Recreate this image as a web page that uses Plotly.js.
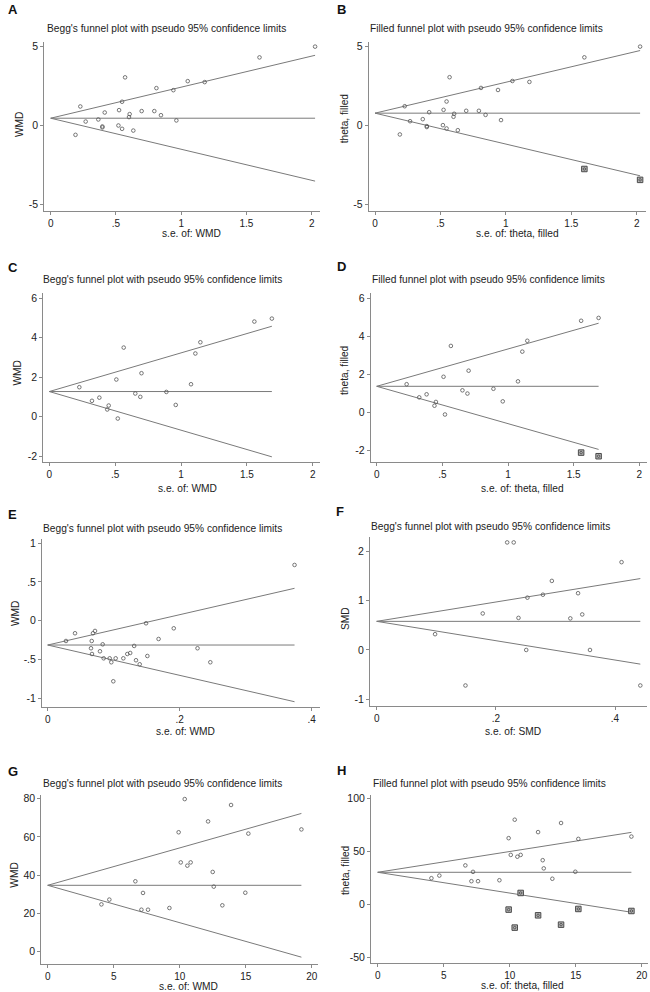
<!DOCTYPE html>
<html><head><meta charset="utf-8">
<script src="https://cdn.plot.ly/plotly-3.0.1.min.js"></script>
<style>html,body{margin:0;padding:0;background:#fff}</style>
</head><body><div id="chart" style="width:650px;height:992px"></div>
<script>
// ---------- DATA ----------
// Panels A & B (same observed studies)
const seA  = [2.026, 1.60, 0.57, 1.05, 1.18, 0.81, 0.94, 0.547, 0.227, 0.524, 0.697, 0.794, 0.414, 0.605, 0.845, 0.60, 0.365, 0.963, 0.268, 0.519, 0.396, 0.396, 0.547, 0.633, 0.19];
const wmdA = [4.98, 4.30, 3.04, 2.80, 2.74, 2.36, 2.23, 1.50, 1.20, 0.97, 0.91, 0.91, 0.82, 0.72, 0.65, 0.53, 0.38, 0.32, 0.25, 0.00, -0.06, -0.12, -0.21, -0.32, -0.59];
const seBfill    = [1.60, 2.026];
const thetaBfill = [-2.78, -3.47];
// Panels C & D
const seC  = [1.69, 1.557, 1.147, 0.565, 1.109, 0.70, 0.509, 1.076, 0.228, 0.889, 0.653, 0.691, 0.38, 0.324, 0.96, 0.451, 0.44, 0.52];
const wmdC = [4.97, 4.82, 3.77, 3.50, 3.20, 2.20, 1.88, 1.64, 1.49, 1.25, 1.17, 1.00, 0.96, 0.80, 0.59, 0.56, 0.36, -0.10];
const seDfill    = [1.557, 1.69];
const thetaDfill = [-2.10, -2.29];
// Panel E
const seE  = [0.374, 0.149, 0.191, 0.0414, 0.0277, 0.0717, 0.0686, 0.168, 0.0667, 0.0833, 0.131, 0.0656, 0.227, 0.0792, 0.0671, 0.1206, 0.125, 0.151, 0.0848, 0.0939, 0.103, 0.1146, 0.0964, 0.1338, 0.1394, 0.2464, 0.0994];
const wmdE = [0.72, -0.034, -0.099, -0.163, -0.263, -0.133, -0.163, -0.237, -0.263, -0.306, -0.327, -0.357, -0.357, -0.396, -0.431, -0.431, -0.418, -0.457, -0.487, -0.487, -0.487, -0.487, -0.538, -0.512, -0.564, -0.538, -0.784];
// Panel F
const seF  = [0.219, 0.230, 0.411, 0.294, 0.338, 0.279, 0.253, 0.178, 0.345, 0.238, 0.325, 0.098, 0.251, 0.358, 0.149, 0.4425];
const smdF = [2.18, 2.18, 1.78, 1.40, 1.15, 1.12, 1.06, 0.74, 0.72, 0.65, 0.64, 0.32, 0.0, 0.0, -0.72, -0.72];
// Panels G & H
const seG  = [10.38, 13.89, 12.15, 9.92, 19.22, 15.2, 10.08, 10.83, 10.58, 12.5, 6.64, 12.58, 7.22, 14.97, 4.67, 4.07, 13.23, 9.22, 7.10, 7.60];
const wmdG = [79.8, 76.7, 68.1, 62.4, 63.9, 61.7, 46.6, 46.6, 44.9, 41.6, 36.7, 33.9, 30.6, 30.7, 27.1, 24.6, 24.1, 22.7, 21.8, 21.8];
const seHfill    = [10.83, 9.92, 15.2, 19.22, 12.15, 13.89, 10.38];
const thetaHfill = [10.7, -5.0, -4.4, -6.3, -10.4, -19.2, -22.0];
// pooled estimates (A..H)
const pooled = [0.46, 0.76, 1.27, 1.38, -0.315, 0.58, 34.6, 30.2];
// tick labels
const xTicks2  = [0, 0.5, 1, 1.5, 2];   const xTickText2  = ['0', '.5', '1', '1.5', '2'];
const xTicks04 = [0, 0.2, 0.4];         const xTickText04 = ['0', '.2', '.4'];
const xTicks20 = [0, 5, 10, 15, 20];    const xTickText20 = ['0', '5', '10', '15', '20'];
const yTicksA = [-5, 0, 5];
const yTicksC = [-2, 0, 2, 4, 6];
const yTicksE = [-1, -0.5, 0, 0.5, 1];  const yTickTextE = ['-1', '-.5', '0', '.5', '1'];
const yTicksF = [-1, 0, 1, 2];
const yTicksG = [0, 20, 40, 60, 80];
const yTicksH = [-50, 0, 50, 100];
const letters = ['A','B','C','D','E','F','G','H'];
const titleBegg = "Begg's funnel plot with pseudo 95% confidence limits";
const titleFill = "Filled funnel plot with pseudo 95% confidence limits";
const xTitles = ['s.e. of: WMD','s.e. of: theta, filled','s.e. of: WMD','s.e. of: theta, filled','s.e. of: WMD','s.e. of: SMD','s.e. of: WMD','s.e. of: theta, filled'];
const yTitles = ['WMD','theta, filled','WMD','theta, filled','WMD','SMD','WMD','theta, filled'];

// ---------- LAYOUT GEOMETRY (pixels) ----------
const W = 650, H = 992;
const FONT = 'Liberation Sans, Arial, sans-serif';
const panels = [
 {se: seA, y: wmdA, title: titleBegg, xl:44.3, xr:320, yt:41.7, yb:210.7, xm:[0,50.7,2,311.7], ym:[5,46.3,-5,204.7], xt:xTicks2, xtt:xTickText2, yt_:yTicksA,
  let:[13,9.5], ttl:[166,28.3], xtl:[191,233.5], ytl:[20,125]},
 {se: seA, y: wmdA, fse: seBfill, fy: thetaBfill, title: titleFill, xl:368.7, xr:645.7, yt:41.7, yb:210.7, xm:[0,375,2,636.7], ym:[5,46.3,-5,204], xt:xTicks2, xtt:xTickText2, yt_:yTicksA,
  let:[341,9.5], ttl:[486.7,28.3], xtl:[517.5,233.5], ytl:[344,118.3]},
 {se: seC, y: wmdC, title: titleBegg, xl:43.3, xr:320, yt:293.3, yb:462, xm:[0,49.3,2,312.7], ym:[6,298.3,-2,456], xt:xTicks2, xtt:xTickText2, yt_:yTicksC,
  let:[12.5,267.7], ttl:[162.8,279.3], xtl:[187.3,488.5], ytl:[17.3,373.3]},
 {se: seC, y: wmdC, fse: seDfill, fy: thetaDfill, title: titleFill, xl:370.7, xr:646.7, yt:293.3, yb:461.7, xm:[0,376.7,2,639.3], ym:[6,298.3,-2,450.7], xt:xTicks2, xtt:xTickText2, yt_:yTicksC,
  let:[341,266.7], ttl:[488,279.3], xtl:[522.3,488], ytl:[344,370]},
 {se: seE, y: wmdE, title: titleBegg, xl:42, xr:320, yt:539.3, yb:706.7, xm:[0,47.7,0.4,311.7], ym:[1,543.3,-1,698], xt:xTicks04, xtt:xTickText04, yt_:yTicksE, ytt:yTickTextE,
  let:[12,514], ttl:[162.7,528.3], xtl:[185.7,731], ytl:[15.7,613.3]},
 {se: seF, y: smdF, title: titleBegg, xl:370, xr:646.7, yt:537.3, yb:706, xm:[0,376.7,0.4,615], ym:[2,551.3,-1,699.3], xt:xTicks04, xtt:xTickText04, yt_:yTicksF,
  let:[340,511.7], ttl:[490.7,526.7], xtl:[512.7,731], ytl:[345.7,618.3]},
 {se: seG, y: wmdG, title: titleBegg, xl:41.3, xr:318.3, yt:795, yb:964, xm:[0,47.7,20,311.7], ym:[80,798.7,0,951.3], xt:xTicks20, xtt:xTickText20, yt_:yTicksG,
  let:[13,771], ttl:[162.3,783.3], xtl:[188,986.2], ytl:[15,875.7]},
 {se: seG, y: wmdG, fse: seHfill, fy: thetaHfill, title: titleFill, xl:371, xr:647.7, yt:795, yb:963.3, xm:[0,377.7,20,641.7], ym:[100,798.3,-50,957.3], xt:xTicks20, xtt:xTickText20, yt_:yTicksH,
  let:[341,770], ttl:[489,783.3], xtl:[522,985.5], ytl:[345,870]}
];

const traces = [];
const layout = {
  width: W, height: H, margin: {l:0, r:0, t:0, b:0}, showlegend: false,
  paper_bgcolor: '#fff', plot_bgcolor: '#fff', font: {family: FONT, size: 10, color: '#222'},
  annotations: []
};
const AX = '#8a8a8a', LINE = '#7a7a7a', MK = '#555';
function mapRange(m, p0, p1) {
  const [a, pa, b, pb] = m; const k = (b - a) / (pb - pa);
  return [a + (p0 - pa) * k, a + (p1 - pa) * k];
}
function ann(x, y, text, opts) {
  layout.annotations.push(Object.assign({xref:'paper', yref:'paper', x: x / W, y: 1 - y / H, text: text, showarrow: false,
    xanchor:'center', yanchor:'middle', borderpad: 0, font:{family:FONT, size:10.2, color:'#222'}}, opts || {}));
}
panels.forEach((p, i) => {
  const n = i + 1, xa = 'x' + (n === 1 ? '' : n), ya = 'y' + (n === 1 ? '' : n);
  const xr = mapRange(p.xm, p.xl, p.xr);
  const yr = mapRange(p.ym, p.yb, p.yt);
  layout['xaxis' + (n === 1 ? '' : n)] = {
    domain: [p.xl / W, p.xr / W], range: xr, anchor: ya, showgrid: false, zeroline: false,
    showline: true, linecolor: AX, linewidth: 1, ticks: 'outside', ticklen: 3, tickcolor: AX, tickwidth: 1,
    tickmode: 'array', tickvals: p.xt, ticktext: p.xtt, tickfont: {family: FONT, size: 10, color: '#222'}, fixedrange: true
  };
  layout['yaxis' + (n === 1 ? '' : n)] = {
    domain: [1 - p.yb / H, 1 - p.yt / H], range: yr, anchor: xa, showgrid: false, zeroline: false,
    showline: true, linecolor: AX, linewidth: 1, ticks: 'outside', ticklen: 3, tickcolor: AX, tickwidth: 1,
    tickmode: 'array', tickvals: p.yt_, ticktext: p.ytt || p.yt_.map(String), tickangle: 0,
    tickfont: {family: FONT, size: 10.5, color: '#222'}, fixedrange: true
  };
  const th = pooled[i];
  const maxSe = Math.max(...p.se);
  const lx = [0, maxSe];
  [[th, th], [th, th + 1.96 * maxSe], [th, th - 1.96 * maxSe]].forEach(ly => {
    traces.push({x: lx, y: ly, xaxis: xa, yaxis: ya, mode: 'lines', line: {color: LINE, width: 1}, hoverinfo: 'skip'});
  });
  if (p.fse) {
    traces.push({x: p.fse, y: p.fy, xaxis: xa, yaxis: ya, mode: 'markers',
      marker: {symbol: 'square', size: 5.5, color: '#b5b5b5', line: {color: '#4a4a4a', width: 1}}});
    traces.push({x: p.fse, y: p.fy, xaxis: xa, yaxis: ya, mode: 'markers',
      marker: {symbol: 'circle-open', size: 2.5, color: '#444', line: {color: '#444', width: 0.8}}});
  }
  traces.push({x: p.se, y: p.y, xaxis: xa, yaxis: ya, mode: 'markers',
    marker: {symbol: 'circle-open', size: 3.6, color: MK, line: {color: MK, width: 0.8}}});
  ann(p.let[0], p.let[1], '<b>' + letters[i] + '</b>', {font: {family: FONT, size: 13, color: '#111'}});
  ann(p.ttl[0], p.ttl[1], p.title);
  ann(p.xtl[0], p.xtl[1], xTitles[i]);
  ann(p.ytl[0], p.ytl[1], yTitles[i], {textangle: -90});
});
Plotly.newPlot('chart', traces, layout, {displayModeBar: false, staticPlot: true});
</script></body></html>
